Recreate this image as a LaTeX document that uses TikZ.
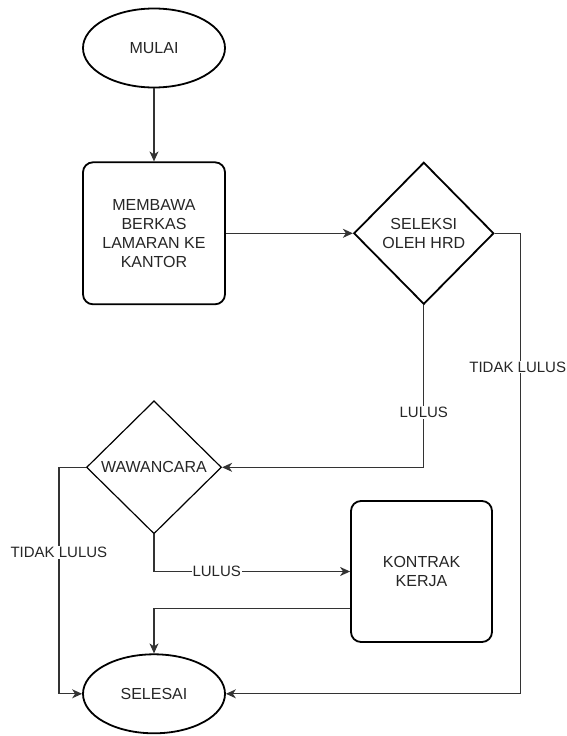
\documentclass[tikz,border=0pt]{standalone}
\usepackage{fontspec}
\setmainfont{Liberation Sans}
\usetikzlibrary{shapes.geometric,arrows.meta,positioning}

\begin{document}
\begin{tikzpicture}[x=1pt,y=-1pt,
  base/.style={draw=black,line width=1.8pt,align=center,text=black!85,
               font=\fontsize{16}{19}\selectfont,fill=white},
  terminal/.style={base,ellipse,minimum width=142pt,minimum height=79pt,inner sep=0pt},
  proses/.style={base,rounded corners=10pt,minimum width=142pt,minimum height=142pt},
  keputusan/.style={base,diamond,minimum width=140pt,minimum height=142pt,inner sep=0pt},
  lbl/.style={font=\fontsize{15}{18}\selectfont,text=black!85,fill=white,inner sep=1pt},
  arr/.style={-{Stealth[length=10pt,width=9pt,inset=3pt]},line width=1.2pt,draw=black!80},
  garis/.style={line width=1.2pt,draw=black!80}]

  \useasboundingbox (0,0) rectangle (567,736);

  \node[terminal] (mulai) at (154,48) {MULAI};
  \node[proses,below=73pt of mulai] (berkas)
       {MEMBAWA\\BERKAS\\LAMARAN KE\\KANTOR};
  \node[keputusan,right=127pt of berkas] (seleksi) {SELEKSI\\OLEH HRD};
  \node[keputusan,line width=1.2pt,minimum width=135pt,minimum height=133pt,
        below=95pt of berkas] (wawancara) {WAWANCARA};
  \node[proses,minimum width=141pt,minimum height=141pt] (kontrak)
       at (421.5,571.5) {KONTRAK\\KERJA};
  \node[terminal,below=119pt of wawancara] (selesai) {SELESAI};

  \draw[arr] (mulai) -- (berkas);
  \draw[arr] (berkas) -- (seleksi);
  \draw[arr] (seleksi.east) -- ++(26,0) coordinate (kananatas)
        -- node[lbl,pos=0.29,xshift=-3pt]{TIDAK LULUS} (kananatas |- selesai.east)
        -- (selesai.east);
  \draw[arr] (seleksi.south) |- node[lbl,pos=0.33]{LULUS} (wawancara.east);
  \draw[arr] (wawancara.west) -- ++(-27,0) coordinate (kiri)
        -- node[lbl,pos=0.375]{TIDAK LULUS} (kiri |- selesai.west)
        -- (selesai.west);
  \draw[arr] (wawancara.south) |- node[lbl,pos=0.66]{LULUS} (kontrak.west);
  \draw[arr] ([yshift=-37pt]kontrak.west) -| (selesai.north);
\end{tikzpicture}
\end{document}
